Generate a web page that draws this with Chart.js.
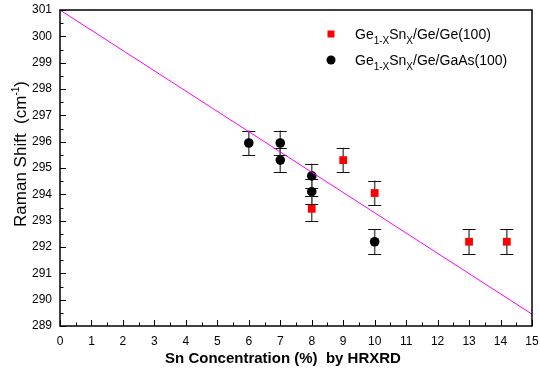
<!DOCTYPE html>
<html>
<head>
<meta charset="utf-8">
<script src="https://cdn.jsdelivr.net/npm/chart.js@4/dist/chart.umd.min.js"></script>
<style>
  html, body { margin: 0; padding: 0; background: #fff; }
  #wrap { width: 540px; height: 372px; position: relative; }
</style>
</head>
<body>
<div id="wrap"><canvas id="myChart"></canvas></div>
<script>
// Datos
const xGe = [8, 9, 10, 13, 14.2]
const yGe = [293.45, 295.3, 294.05, 292.2, 292.2]
const errGe = [0.47, 0.47, 0.47, 0.47, 0.47]

const xGaAs = [6, 7, 7, 8, 8, 10]
const yGaAs = [295.95, 295.95, 295.3, 294.7, 294.1, 292.2]
const errGaAs = [0.47, 0.47, 0.47, 0.47, 0.47, 0.47]

const xAjuste = [0, 15]
const yAjuste = [301, 289.45]

const FUENTE = '"Liberation Sans", Arial, sans-serif'
const ctx = document.getElementById('myChart')

const aPuntos = (xs, ys) => xs.map((x, i) => ({ x, y: ys[i] }))

// Barras de error, debajo de los marcadores
const barrasError = {
    id: 'barrasError',
    beforeDatasetsDraw(chart) {
        const { ctx: c, scales: { x, y } } = chart
        const series = [[xGe, yGe, errGe], [xGaAs, yGaAs, errGaAs]]
        c.save()
        series.forEach(([xs, ys, es]) => {
            xs.forEach((xv, i) => {
                const px = x.getPixelForValue(xv)
                const top = y.getPixelForValue(ys[i] + es[i])
                const bot = y.getPixelForValue(ys[i] - es[i])
                c.strokeStyle = '#555'
                c.lineWidth = 1.5
                c.beginPath(); c.moveTo(px, top); c.lineTo(px, bot); c.stroke()
                c.strokeStyle = '#111'
                c.lineWidth = 1
                c.beginPath()
                c.moveTo(px - 6.5, Math.round(top) + 0.5); c.lineTo(px + 6.5, Math.round(top) + 0.5)
                c.moveTo(px - 6.5, Math.round(bot) + 0.5); c.lineTo(px + 6.5, Math.round(bot) + 0.5)
                c.stroke()
            })
        })
        c.restore()
    }
}

// Marco, ticks hacia adentro, titulos y leyenda con subindices
const marco = {
    id: 'marco',
    afterDraw(chart) {
        const { ctx: c, chartArea: a, scales: { x, y } } = chart
        c.save()
        c.strokeStyle = '#000'
        c.lineWidth = 1.5
        c.strokeRect(a.left, a.top, a.right - a.left, a.bottom - a.top)
        c.lineWidth = 1
        c.beginPath()
        for (let v = 0; v <= 15; v += 0.5) {
            const px = Math.round(x.getPixelForValue(v)) + 0.5
            const len = Number.isInteger(v) ? 6 : 3.5
            c.moveTo(px, a.bottom); c.lineTo(px, a.bottom - len)
        }
        for (let v = 289; v <= 301; v += 0.5) {
            const py = Math.round(y.getPixelForValue(v)) + 0.5
            const len = Number.isInteger(v) ? 6 : 3.5
            c.moveTo(a.left, py); c.lineTo(a.left + len, py)
        }
        c.stroke()

        c.fillStyle = '#000'
        // titulo eje x
        c.font = 'bold 15px ' + FUENTE
        c.textAlign = 'center'
        c.textBaseline = 'alphabetic'
        c.fillText('Sn Concentration (%)  by HRXRD', 283, 363)

        // titulo eje y con superindice
        c.save()
        c.translate(20, 154)
        c.rotate(-Math.PI / 2)
        const partes = [['Raman Shift  (cm', 17, 0], ['-1', 10, -7], [')', 17, 0]]
        let ancho = 0
        partes.forEach(([t, s]) => { c.font = s + 'px ' + FUENTE; ancho += c.measureText(t).width })
        let cx = -ancho / 2
        c.textAlign = 'left'
        partes.forEach(([t, s, dy]) => {
            c.font = s + 'px ' + FUENTE
            c.fillText(t, cx, 6 + dy)
            cx += c.measureText(t).width
        })
        c.restore()

        // leyenda
        const escribir = (px, py, partesTxt) => {
            let cx = px
            c.textAlign = 'left'
            partesTxt.forEach(([t, sub]) => {
                c.font = (sub ? 10 : 14) + 'px ' + FUENTE
                c.fillText(t, cx, py + (sub ? 5 : 0))
                cx += c.measureText(t).width
            })
        }
        c.fillStyle = '#ff0000'
        c.fillRect(327.5, 30.5, 7, 7)
        c.fillStyle = '#000'
        c.beginPath(); c.arc(331, 60, 4.5, 0, Math.PI * 2); c.fill()
        escribir(355, 39, [['Ge'], ['1-X', true], ['Sn'], ['X', true], ['/Ge/Ge(100)']])
        escribir(355, 65, [['Ge'], ['1-X', true], ['Sn'], ['X', true], ['/Ge/GaAs(100)']])
        c.restore()
    }
}

new Chart(ctx, {
    type: 'scatter',
    data: {
        datasets: [
            {
                type: 'line',
                data: aPuntos(xAjuste, yAjuste),
                borderColor: '#ff00ff',
                borderWidth: 1,
                pointRadius: 0,
                fill: false,
                order: 0
            },
            {
                data: aPuntos(xGe, yGe),
                pointStyle: 'rect',
                pointRadius: 5.5,
                backgroundColor: '#ff0000',
                borderColor: '#ff0000',
                borderWidth: 0,
                order: 1
            },
            {
                data: aPuntos(xGaAs, yGaAs),
                pointStyle: 'circle',
                pointRadius: 4.8,
                backgroundColor: '#000',
                borderColor: '#000',
                borderWidth: 0,
                order: 2
            }
        ]
    },
    options: {
        responsive: true,
        maintainAspectRatio: false,
        animation: false,
        layout: { padding: { top: 10, right: 8, left: 0, bottom: 0 } },
        plugins: { legend: { display: false }, tooltip: { enabled: false } },
        scales: {
            x: {
                type: 'linear', min: 0, max: 15,
                grid: { display: false, drawTicks: false },
                border: { display: false },
                ticks: { stepSize: 1, padding: 8, color: '#000', font: { family: FUENTE, size: 12 } },
                afterFit: s => { s.height = 46; s.paddingLeft = 0; s.paddingRight = 0 }
            },
            y: {
                type: 'linear', min: 289, max: 301,
                grid: { display: false, drawTicks: false },
                border: { display: false },
                ticks: { stepSize: 1, padding: 8, color: '#000', font: { family: FUENTE, size: 12 } },
                afterFit: s => { s.width = 60; s.paddingTop = 0; s.paddingBottom = 0 }
            }
        }
    },
    plugins: [barrasError, marco]
})
</script>
</body>
</html>
